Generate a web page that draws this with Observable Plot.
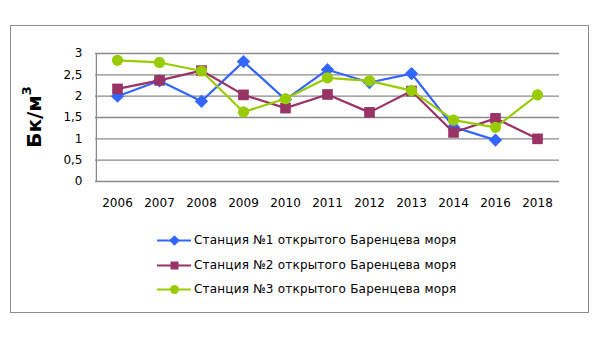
<!DOCTYPE html>
<html><head><meta charset="utf-8">
<script src="https://cdn.jsdelivr.net/npm/d3@7"></script>
<script src="https://cdn.jsdelivr.net/npm/@observablehq/plot@0.6"></script>
<style>
body{margin:0;background:#fff;font-family:"DejaVu Sans",sans-serif;}
#wrap{position:relative;width:598px;height:339px;overflow:hidden;}
#frame{position:absolute;left:10px;top:25px;width:577px;height:286px;border:1px solid #8c8c8c;pointer-events:none;}
#chart{position:absolute;left:0;top:0;}
#ylab{position:absolute;left:34px;top:117px;transform:translate(-50%,-50%) rotate(-90deg);font:bold 20px "DejaVu Sans",sans-serif;white-space:nowrap;color:#000;}
#ylab sup{font-size:13px;vertical-align:10px;line-height:0}
#legend{position:absolute;left:157px;top:228px;font:12px "DejaVu Sans",sans-serif;color:#000;letter-spacing:0.2px;}
.row{display:flex;align-items:center;height:24.5px;}
.row svg{margin-right:3px}
</style></head><body>
<div id="wrap">
<div id="chart"></div>
<div id="ylab">Бк/м<sup>3</sup></div>
<div id="legend"></div>
<div id="frame"></div>
</div>
<script>
const years = ["2006","2007","2008","2009","2010","2011","2012","2013","2014","2016","2018"];
const station1 = [2.0, 2.36, 1.88, 2.81, 1.92, 2.62, 2.32, 2.53, 1.28, 0.97, null];
const station2 = [2.17, 2.37, 2.6, 2.03, 1.72, 2.04, 1.62, 2.12, 1.15, 1.48, 1.0];
const station3 = [2.84, 2.79, 2.59, 1.63, 1.94, 2.43, 2.36, 2.13, 1.44, 1.27, 2.03];
const seriesNames = ["Станция №1 открытого Баренцева моря","Станция №2 открытого Баренцева моря","Станция №3 открытого Баренцева моря"];
const colors = ["#3366ff","#993366","#99cc00"];
const symbols = ["diamond2","square","circle"];
const yTicks = [0,0.5,1,1.5,2,2.5,3];

const allSeries = [station1, station2, station3];
const data = [];
allSeries.forEach((vals,i)=>vals.forEach((v,j)=>{ if(v!=null) data.push({year:years[j], value:v, s:i}); }));

const marks = [
  Plot.gridY(yTicks, {stroke:"#8a8a8a", strokeOpacity:1, strokeWidth:1.3}),
  Plot.ruleX([years[0]], {stroke:"#8a8a8a", strokeWidth:1.3, dx:-21.1, y1:0, y2:3}),
  Plot.axisY(yTicks, {tickSize:0, tickPadding:13, fontSize:12, tickFormat:d=>String(d).replace(".",",")}),
  Plot.axisX({tickSize:0, tickPadding:17, fontSize:12})
];
[0,1,2].forEach(i=>{
  const d = data.filter(r=>r.s===i);
  marks.push(Plot.line(d,{x:"year",y:"value",stroke:colors[i],strokeWidth:2.2}));
  marks.push(Plot.dot(d,{x:"year",y:"value",fill:colors[i],symbol:symbols[i],r:i===0?6:(i===1?6:5.6),stroke:"none"}));
});

const chart = Plot.plot({
  width:598, height:215,
  marginLeft:95, marginRight:39, marginTop:53, marginBottom:34,
  style:{fontFamily:"'DejaVu Sans',sans-serif",fontSize:"12px",color:"#000",background:"transparent"},
  x:{type:"point", domain:years, padding:0.5, label:null},
  y:{domain:[0,3], label:null},
  marks
});
document.getElementById("chart").appendChild(chart);

const leg = document.getElementById("legend");
seriesNames.forEach((name,i)=>{
  const row = document.createElement("div"); row.className="row";
  const sw = Plot.plot({width:34,height:14,margin:0,axis:null,
    x:{domain:[0,1]},y:{domain:[0,1]},
    marks:[Plot.ruleY([0.5],{stroke:colors[i],strokeWidth:2.2}),
           Plot.dot([{x:0.5,y:0.5}],{x:"x",y:"y",fill:colors[i],stroke:"none",symbol:symbols[i],r:i===0?4.8:4.5})]});
  row.appendChild(sw);
  const t=document.createElement("span"); t.textContent=name; row.appendChild(t);
  leg.appendChild(row);
});
</script>
</body></html>
